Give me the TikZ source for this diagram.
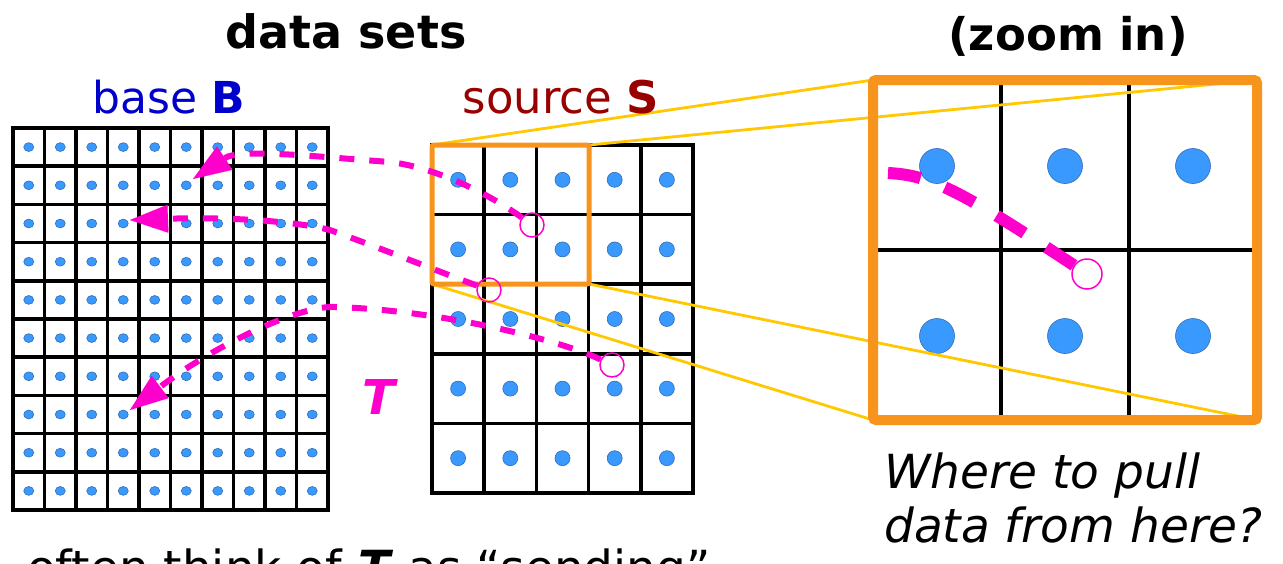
\documentclass[tikz,border=0pt]{standalone}
\usepackage{fontspec}
\setmainfont{DejaVu Sans}
\usetikzlibrary{arrows.meta}
\definecolor{dotblue}{HTML}{3A99FF}
\definecolor{dotedge}{HTML}{2F6DB5}
\definecolor{mag}{HTML}{FF00CC}
\definecolor{orng}{HTML}{F7941D}
\definecolor{ylw}{HTML}{FFC800}
\definecolor{baseblue}{HTML}{0000CC}
\definecolor{srcred}{HTML}{990000}
\begin{document}
\begin{tikzpicture}[x=1pt,y=-1pt,
  gline/.style={line width=3.5pt, black},
  sdot/.style={fill=dotblue, draw=dotedge, line width=0.6pt},
  zoomline/.style={ylw, line width=2.8pt},
  pull/.style={mag, line width=6pt, dash pattern=on 15pt off 15pt,
    -{Triangle[length=38pt,width=28pt,line width=0.1pt]}},
  ring/.style={circle, draw=mag, line width=1.5pt, minimum size=24pt, inner sep=0pt},
  boxph/.style={inner sep=0pt, outer sep=0pt, rectangle},
  lbl/.style={inner sep=0pt, anchor=base},
]
\useasboundingbox (0,0) rectangle (1283,563);
\fill[white] (0,0) rectangle (1283,563);

% ---- base grid B (10 x 10)
\foreach \i in {1,...,9} \draw[gline] ({13+31.5*\i},128) -- ({13+31.5*\i},510);
\foreach \j in {1,...,9} \draw[gline] (13,{128+38.2*\j}) -- (328,{128+38.2*\j});
\draw[gline] (13,128) rectangle (328,510);
\foreach \i in {0,...,9} \foreach \j in {0,...,9}
  \filldraw[sdot] ({28.75+31.5*\i},{147.1+38.2*\j}) ellipse [x radius=5pt, y radius=4.4pt];

% ---- source grid S (5 x 5)
\foreach \i in {1,...,4} \draw[gline] ({432+52.2*\i},145) -- ({432+52.2*\i},493);
\foreach \j in {1,...,4} \draw[gline] (432,{145+69.6*\j}) -- (693,{145+69.6*\j});
\draw[gline] (432,145) rectangle (693,493);
\foreach \i in {0,...,4} \foreach \j in {0,...,4}
  \filldraw[sdot] ({458.1+52.2*\i},{179.8+69.6*\j}) circle [radius=7.5pt];

% ---- zoomed view interior
\draw[gline] (1001,80) -- (1001,420);
\draw[gline] (1129,80) -- (1129,420);
\draw[gline] (873,250) -- (1257,250);
\foreach \x in {937,1065,1193} \foreach \y in {166,336}
  \filldraw[sdot] (\x,\y) circle [radius=17.5pt];

% ---- boxes (placeholders)
\node[boxph, minimum width=157pt, minimum height=139pt] (sbox) at (510.5,214.5) {};
\node[boxph, minimum width=384pt, minimum height=340pt] (zbox) at (1065,250) {};

% ---- zoom lines
\draw[zoomline] (sbox.north west) -- (zbox.north west);
\draw[zoomline] (sbox.north east) -- (zbox.north east);
\draw[zoomline] (sbox.south west) -- (zbox.south west);
\draw[zoomline] (sbox.south east) -- (zbox.south east);

% ---- orange frames
\draw[orng, line width=5pt, rounded corners=2pt] (sbox.north west) rectangle (sbox.south east);
\draw[orng, line width=10pt, rounded corners=3pt] (zbox.north west) rectangle (zbox.south east);

% ---- sample points and targets
\node[ring] (c1) at (532,225) {};
\node[ring] (c2) at (489,290) {};
\node[ring] (c3) at (612,365) {};
\node[ring, minimum size=30pt, fill=white] (c4) at (1087,274) {};
\coordinate (t1) at (193,179);
\coordinate (t2) at (130,220);
\coordinate (t3) at (130,410);
\coordinate (z0) at (888,173);

% ---- pull paths
\draw[pull] (c1) .. controls (495,198) and (440,168) .. (390,162)
            .. controls (320,157) and (240,148) .. (t1);
\draw[pull] (c2) .. controls (440,272) and (380,248) .. (330,230)
            .. controls (290,220) and (220,217) .. (t2);
\draw[pull] (c3) .. controls (560,340) and (440,310) .. (335,307)
            .. controls (300,305) and (215,345) .. (t3);
\draw[mag, line width=12pt, dash pattern=on 33pt off 26pt]
  (z0) .. controls (930,175) and (960,190) .. (c4);

% ---- labels
\node[lbl, font=\fontsize{46}{55}\selectfont\bfseries] (ttl) at (346,48) {data sets};
\node[lbl, font=\fontsize{45}{54}\selectfont\bfseries] (zin) at (1068,50) {(zoom in)};
\node[lbl, font=\fontsize{44}{53}\selectfont, text=baseblue] (lb) at (169,113) {base \textbf{B}};
\node[lbl, font=\fontsize{45}{54}\selectfont, text=srcred] (ls) at (561,113) {source \textbf{S}};
\node[lbl, font=\fontsize{48}{56}\selectfont\bfseries\itshape, text=mag] (lt) at (379,414) {T};
\node[inner sep=0pt, anchor=base west, align=left, font=\fontsize{47}{54}\selectfont\itshape] (q) at (884,542)
  {Where to pull\\data from here?};
\node[inner sep=0pt, anchor=base west, font=\fontsize{47}{56}\selectfont] (bt) at (27,584)
  {often think of \textbf{\textit{T}} as “sending”};
\end{tikzpicture}
\end{document}
